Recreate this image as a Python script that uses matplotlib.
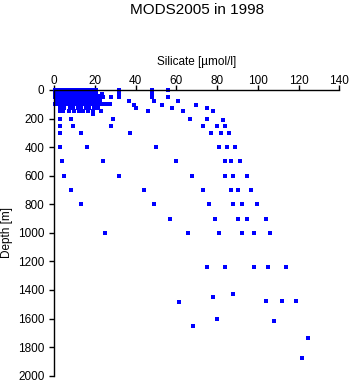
import matplotlib
matplotlib.use("Agg")
import matplotlib.pyplot as plt

plt.rcParams['font.family'] = ['Liberation Sans', 'DejaVu Sans']

# Silicate [umol/l] values grouped by depth level [m]
levels = {
    0:    [0.2, 1.5, 3.0, 4.5, 6.0, 7.5, 9.0, 10.5, 12.0, 13.5, 15.0, 16.5, 18.0, 19.5, 20.3, 32.0, 47.8, 56.0],
    5:    [0.9, 2.3, 3.8, 5.2, 6.8, 8.2, 9.7, 11.2, 12.7, 14.2, 15.7, 17.2, 18.7],
    10:   [0.2, 1.6, 3.1, 4.4, 5.9, 7.4, 8.8, 10.3, 11.9, 13.3, 14.8, 16.2, 17.7, 19.1, 20.0, 47.8],
    15:   [1.0, 2.5, 4.0, 5.3, 6.9, 8.3, 9.9, 11.4, 12.9, 14.3, 15.9, 17.3, 18.9],
    20:   [0.3, 1.8, 3.3, 4.8, 6.2, 7.7, 9.3, 10.8, 12.2, 13.7, 15.2, 16.6, 18.1, 19.4, 47.8],
    25:   [1.1, 2.6, 4.1, 5.6, 7.0, 8.6, 10.0, 11.5, 13.0, 14.4, 15.9, 17.4],
    30:   [0.1, 1.4, 2.9, 4.4, 5.8, 7.3, 8.8, 10.2, 11.7, 13.2, 14.6, 16.0, 17.6, 19.0, 20.5, 23.5, 32.0, 47.8],
    40:   [0.5, 2.0, 3.5, 5.5, 7.0, 8.5, 10.0, 11.5, 13.0, 14.5, 16.0, 18.0, 19.5, 21.5, 47.8],
    50:   [0.2, 1.7, 3.2, 4.7, 6.1, 7.6, 9.1, 10.6, 12.1, 13.6, 15.1, 16.5, 18.0, 19.5, 21.0, 22.5, 24.0, 28.0, 32.0, 47.8, 56.0],
    75:   [1.0, 2.5, 4.0, 5.5, 7.0, 9.0, 10.5, 12.0, 14.0, 15.5, 17.0, 19.0, 21.0, 22.5, 36.8, 49.0, 61.0],
    100:  [0.5, 2.0, 3.5, 5.0, 6.5, 8.0, 9.5, 11.0, 12.5, 14.0, 15.5, 17.0, 18.5, 20.0, 21.5, 23.0, 24.5, 26.0, 27.3],
    105:  [39.0, 53.0, 69.7],
    125:  [3.0, 5.0, 7.5, 9.0, 11.5, 13.0, 15.5, 17.0, 19.5, 21.5, 40.0, 58.0, 75.0],
    150:  [3.0, 4.5, 7.0, 9.5, 12.0, 14.0, 16.5, 19.0, 23.0, 46.0, 63.0, 78.0],
    170:  [18.9],
    200:  [3.0, 8.2, 29.0, 66.8, 75.0],
    212:  [83.0],
    250:  [3.0, 9.2, 28.0, 72.9, 80.0, 84.0],
    300:  [3.0, 13.1, 37.2, 77.0, 82.0, 86.0],
    400:  [3.0, 16.2, 50.0, 81.0, 85.0, 89.0],
    500:  [4.0, 24.0, 60.0, 84.0, 87.0, 91.0],
    600:  [4.9, 32.0, 67.8, 84.0, 88.0, 94.8],
    700:  [8.0, 44.2, 72.9, 87.0, 90.0, 96.8],
    800:  [13.0, 49.0, 75.8, 88.0, 92.0, 99.7],
    900:  [57.0, 79.0, 90.0, 94.8, 103.8],
    1000: [25.0, 65.8, 81.0, 92.0, 98.0, 105.8],
    1240: [75.0, 84.0, 98.0, 105.0, 114.0],
}
deep_si = [61.5, 78.0, 88.0, 103.8, 112.0, 118.9, 80.0, 68.0, 108.0, 124.8, 121.8]
deep_depth = [1487, 1450, 1429, 1480, 1480, 1480, 1604, 1650, 1618, 1739, 1876]

xticks = [0, 20, 40, 60, 80, 100, 120, 140]
yticks = [0, 200, 400, 600, 800, 1000, 1200, 1400, 1600, 1800, 2000]

silicate = []
depth = []
for d, vals in levels.items():
    for v in vals:
        silicate.append(v)
        depth.append(d)
silicate += deep_si
depth += deep_depth

W, H = 351, 384
fig = plt.figure(figsize=(W / 100, H / 100), dpi=100)
ax = fig.add_axes([54.3 / W, 1 - 375.7 / H, (339.3 - 54.3) / W, (375.7 - 90) / H])

ax.plot(silicate, depth, linestyle='none', marker='s', markersize=2.4,
        markeredgewidth=0, color='#0000ff', clip_on=False, antialiased=False)

ax.set_xlim(0, 140)
ax.set_ylim(2000, 0)
ax.set_xticks(xticks)
ax.set_yticks(yticks)
ax.xaxis.tick_top()
for s in ['right', 'bottom']:
    ax.spines[s].set_visible(False)
for s in ['top', 'left']:
    ax.spines[s].set_linewidth(1.0)
ax.tick_params(axis='x', direction='out', length=3.6, width=1.0, pad=-1.6, labelsize=8.5)
ax.tick_params(axis='y', direction='out', length=3.6, width=1.0, pad=3.4, labelsize=8.5)

fig.text((54.3 + 339.3) / 2 / W, 1 - 13.5 / H, 'MODS2005 in 1998', ha='center', va='baseline', fontsize=11)
fig.text((54.3 + 339.3) / 2 / W, 1 - 65 / H, 'Silicate [µmol/l]', ha='center', va='baseline', fontsize=8.5)
fig.text(7.5 / W, 1 - 233 / H, 'Depth [m]', ha='center', va='center', rotation=90, fontsize=8.5)

fig.savefig('out.png', dpi=100)
